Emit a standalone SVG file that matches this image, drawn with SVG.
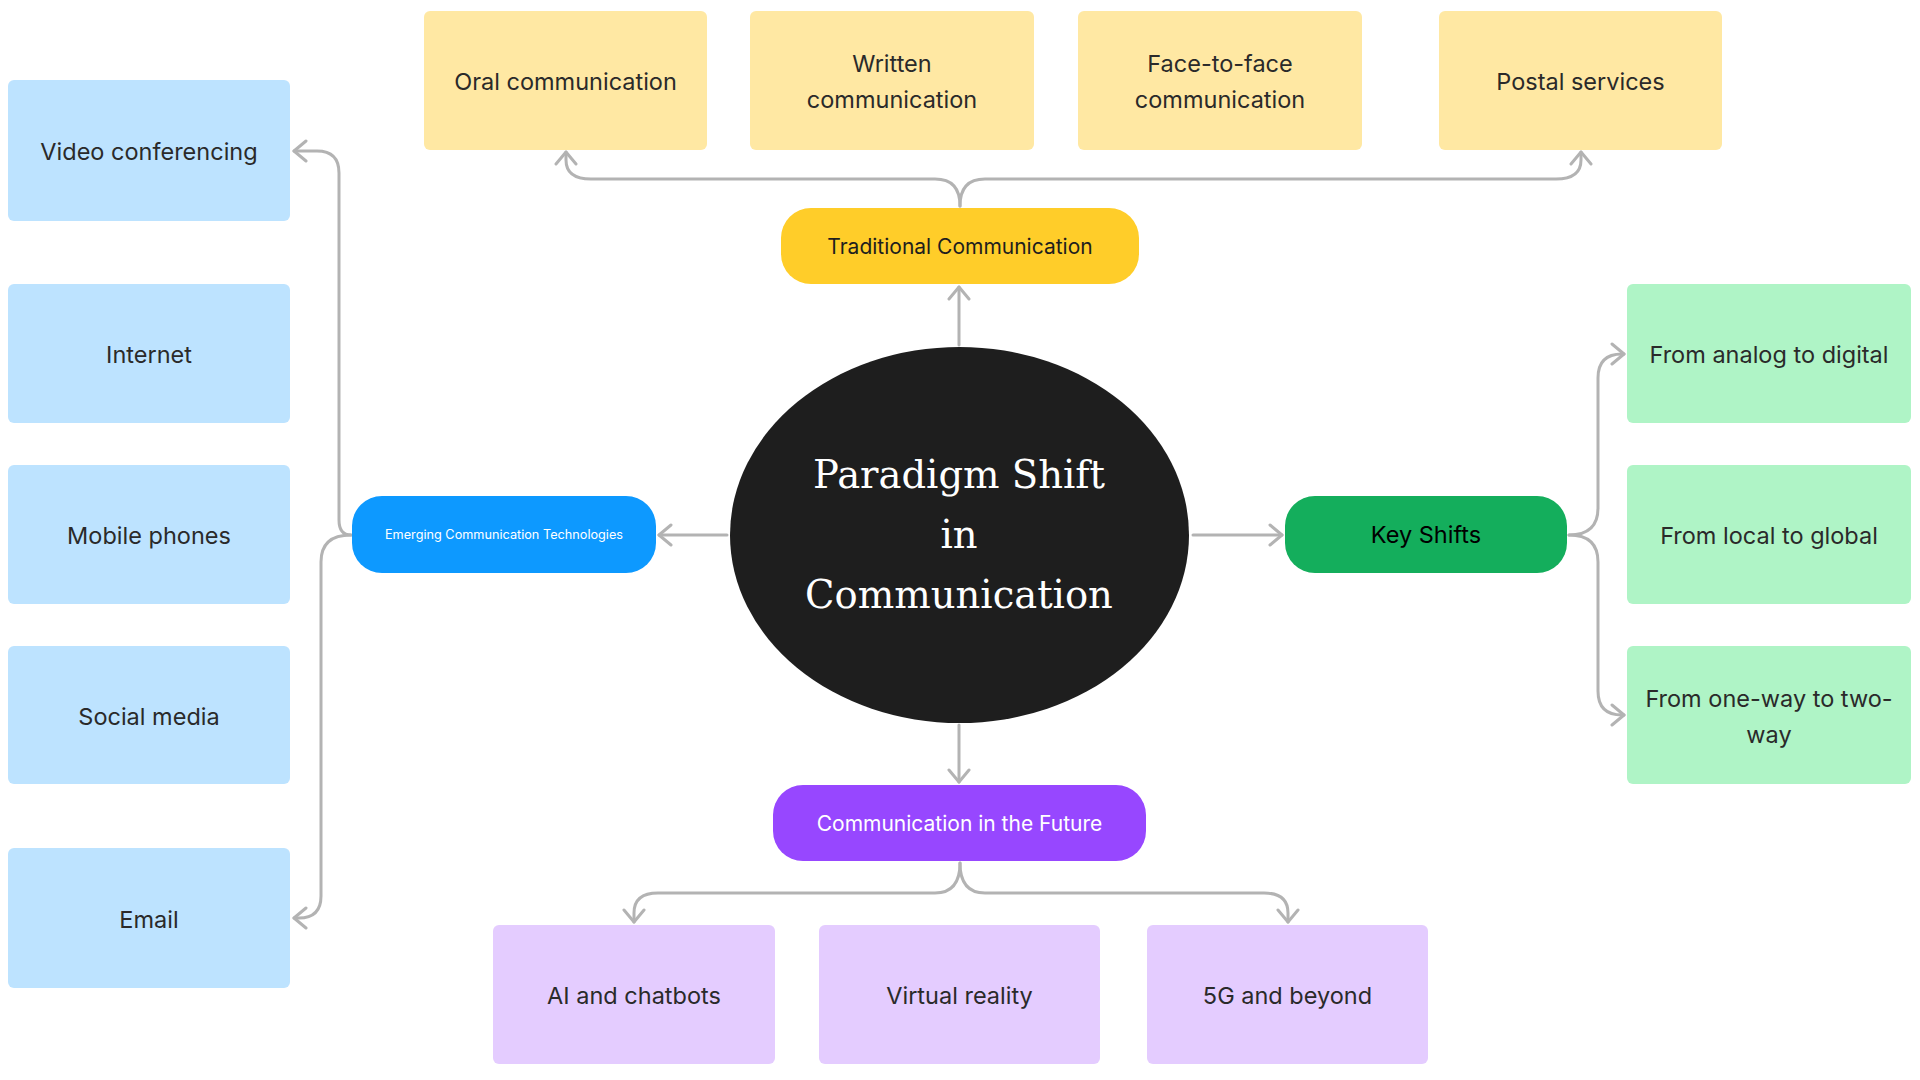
<svg xmlns="http://www.w3.org/2000/svg" width="1920" height="1080" viewBox="0 0 1920 1080">
<style>
.bx{stroke:none}
.y{fill:#FFE8A3}
.b{fill:#BDE3FF}
.g{fill:#AFF4C6}
.p{fill:#E4CCFF}
.t{font-family:Inter,"Liberation Sans",sans-serif;font-size:23.5px;fill:#2a2a2a;text-anchor:middle}
.pt{font-family:Inter,"Liberation Sans",sans-serif;font-size:21px;text-anchor:middle}
.c{fill:none;stroke:#B3B3B3;stroke-width:3;stroke-linecap:round;stroke-linejoin:round}
.title{font-family:"DejaVu Serif","Liberation Serif",serif;font-size:38.5px;fill:#ffffff;text-anchor:middle}
</style>
<defs>
<marker id="ah" markerUnits="userSpaceOnUse" viewBox="-2 -2 16 24" refX="12" refY="10" markerWidth="16" markerHeight="24" orient="auto">
<path d="M0,0 L12,10 L0,20" fill="none" stroke="#B3B3B3" stroke-width="3" stroke-linecap="round" stroke-linejoin="round"/>
</marker>
</defs>
<rect width="1920" height="1080" fill="#ffffff"/>

<g id="connectors" class="c" marker-end="url(#ah)">
<path d="M959 345 L959 287"/>
<path d="M959 725 L959 782"/>
<path d="M727 535 L659 535"/>
<path d="M1193 535 L1282 535"/>
<path d="M960 206 Q960 179 935 179 L591 179 Q566 179 566 160 L566 152"/>
<path d="M960 206 Q960 179 985 179 L1556 179 Q1581 179 1581 160 L1581 152"/>
<path d="M351 535 Q339 535 339 520 L339 173 Q339 151 317 151 L294 151"/>
<path d="M351 535 Q321 535 321 562 L321 896 Q321 918 299 918 L294 918"/>
<path d="M1569 535 Q1598 535 1598 508 L1598 378 Q1598 354 1622 354 L1624 354"/>
<path d="M1569 535 Q1598 535 1598 562 L1598 691 Q1598 715 1622 715 L1624 715"/>
<path d="M960 863 Q960 893 935 893 L658 893 Q634 893 634 913 L634 922"/>
<path d="M960 863 Q960 893 985 893 L1264 893 Q1288 893 1288 913 L1288 922"/>
</g>

<g id="center">
<ellipse cx="959.5" cy="535" rx="229.5" ry="188" fill="#1E1E1E"/>
<text class="title" x="959" y="488">Paradigm Shift</text>
<text class="title" x="959" y="548">in</text>
<text class="title" x="959" y="608">Communication</text>
</g>

<g id="traditional">
<rect x="781" y="208" width="358" height="76" rx="30" fill="#FFCD29"/>
<text class="pt" x="960" y="254" fill="#1e1e1e">Traditional Communication</text>
</g>
<g id="emerging">
<rect x="352" y="496" width="304" height="77" rx="30" fill="#0D99FF"/>
<text x="504" y="539" font-family="Inter,'Liberation Sans',sans-serif" font-size="12.7" fill="#ffffff" text-anchor="middle">Emerging Communication Technologies</text>
</g>
<g id="keyshifts">
<rect x="1285" y="496" width="282" height="77" rx="30" fill="#14AE5C"/>
<text x="1426" y="543" font-family="Inter,'Liberation Sans',sans-serif" font-size="23.5" fill="#000000" text-anchor="middle">Key Shifts</text>
</g>
<g id="future">
<rect x="773" y="785" width="373" height="76" rx="30" fill="#9747FF"/>
<text class="pt" x="959.5" y="831" fill="#ffffff">Communication in the Future</text>
</g>

<g id="oral"><rect class="bx y" x="424" y="11" width="283" height="139" rx="6"/><text class="t" x="565.5" y="90">Oral communication</text></g>
<g id="written"><rect class="bx y" x="750" y="11" width="284" height="139" rx="6"/><text class="t" x="892" y="72">Written</text><text class="t" x="892" y="108">communication</text></g>
<g id="facetoface"><rect class="bx y" x="1078" y="11" width="284" height="139" rx="6"/><text class="t" x="1220" y="72">Face-to-face</text><text class="t" x="1220" y="108">communication</text></g>
<g id="postal"><rect class="bx y" x="1439" y="11" width="283" height="139" rx="6"/><text class="t" x="1580.5" y="90">Postal services</text></g>

<g id="video"><rect class="bx b" x="8" y="80" width="282" height="141" rx="6"/><text class="t" x="149" y="160">Video conferencing</text></g>
<g id="internet"><rect class="bx b" x="8" y="284" width="282" height="139" rx="6"/><text class="t" x="149" y="363">Internet</text></g>
<g id="mobile"><rect class="bx b" x="8" y="465" width="282" height="139" rx="6"/><text class="t" x="149" y="544">Mobile phones</text></g>
<g id="social"><rect class="bx b" x="8" y="646" width="282" height="138" rx="6"/><text class="t" x="149" y="725">Social media</text></g>
<g id="email"><rect class="bx b" x="8" y="848" width="282" height="140" rx="6"/><text class="t" x="149" y="928">Email</text></g>

<g id="analog"><rect class="bx g" x="1627" y="284" width="284" height="139" rx="6"/><text class="t" x="1769" y="363">From analog to digital</text></g>
<g id="local"><rect class="bx g" x="1627" y="465" width="284" height="139" rx="6"/><text class="t" x="1769" y="544">From local to global</text></g>
<g id="oneway"><rect class="bx g" x="1627" y="646" width="284" height="138" rx="6"/><text class="t" x="1769" y="707">From one-way to two-</text><text class="t" x="1769" y="743">way</text></g>

<g id="ai"><rect class="bx p" x="493" y="925" width="282" height="139" rx="6"/><text class="t" x="634" y="1004">AI and chatbots</text></g>
<g id="vr"><rect class="bx p" x="819" y="925" width="281" height="139" rx="6"/><text class="t" x="959.5" y="1004">Virtual reality</text></g>
<g id="fiveg"><rect class="bx p" x="1147" y="925" width="281" height="139" rx="6"/><text class="t" x="1287.5" y="1004">5G and beyond</text></g>
</svg>
